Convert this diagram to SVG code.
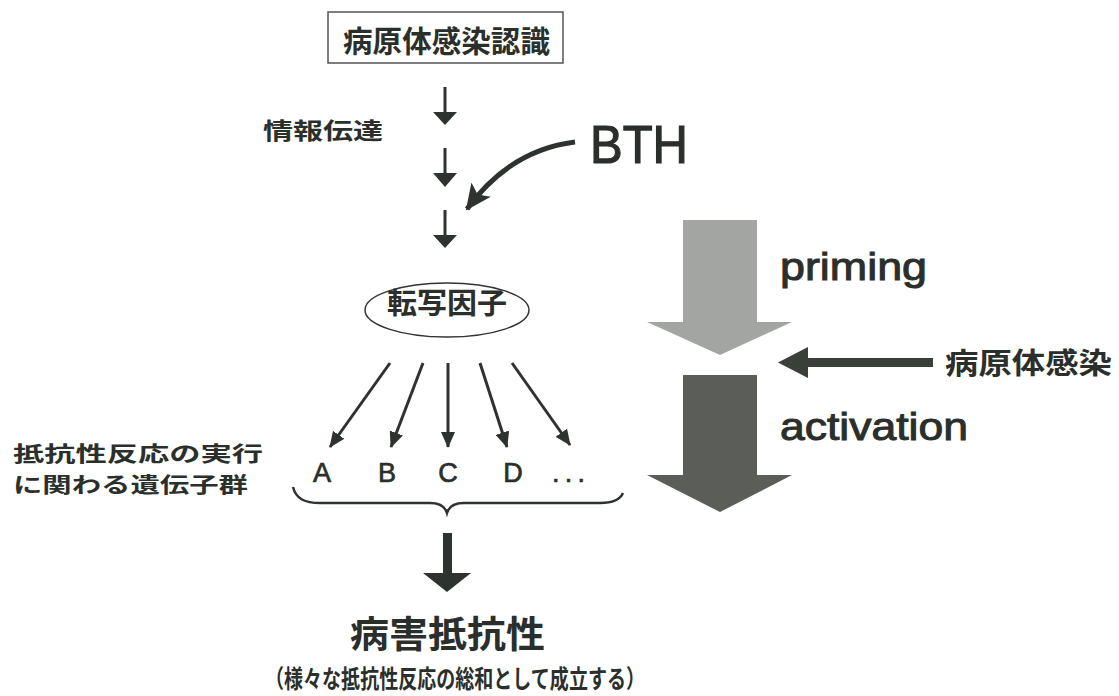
<svg xmlns="http://www.w3.org/2000/svg" width="1119" height="696" viewBox="0 0 1119 696">
<defs>
<style>
.jp{font-family:"Noto Sans CJK JP","Noto Sans CJK SC",sans-serif;font-weight:bold;fill:#2b2f2b}
.en{font-family:"Liberation Sans",Arial,sans-serif;fill:#2b2f2b;stroke:#2b2f2b}
.ln{stroke:#2f332f;stroke-width:3;fill:none}
.hd{fill:#2f332f}
</style>
<marker id="ah" markerUnits="userSpaceOnUse" viewBox="0 0 16 14" refX="15" refY="7" markerWidth="16" markerHeight="14" orient="auto">
<path d="M0,0 L16,7 L0,14 Z" fill="#2f332f"/>
</marker>
<marker id="ahb" markerUnits="userSpaceOnUse" viewBox="0 0 26 24" refX="24" refY="12" markerWidth="26" markerHeight="24" orient="auto">
<path d="M0,0 L26,12 L0,24 L6,12 Z" fill="#2f332f"/>
</marker>
</defs>
<rect width="1119" height="696" fill="#ffffff"/>

<g id="node-recognition">
<rect x="328" y="12" width="235" height="51" fill="#fff" stroke="#555" stroke-width="1.5"/>
<text class="jp" x="343" y="52" font-size="30" textLength="207" lengthAdjust="spacingAndGlyphs">病原体感染認識</text>
</g>

<g id="label-signal">
<text class="jp" x="263" y="139" font-size="23" textLength="120" lengthAdjust="spacingAndGlyphs">情報伝達</text>
</g>

<g id="node-bth">
<text class="en" x="590" y="163" font-size="53" stroke-width="1.2" textLength="98" lengthAdjust="spacingAndGlyphs">BTH</text>
</g>

<g id="node-tf">
<ellipse cx="447" cy="310" rx="82" ry="27" fill="#fff" stroke="#333" stroke-width="1.5"/>
<text class="jp" x="387" y="314" font-size="29" textLength="120" lengthAdjust="spacingAndGlyphs">転写因子</text>
</g>

<g id="node-genes">
<text class="en" font-size="27" stroke-width="0.7" text-anchor="middle" y="482">
<tspan x="322">A</tspan><tspan x="387">B</tspan><tspan x="448">C</tspan><tspan x="513">D</tspan>
</text>
<text class="en" font-size="27" stroke-width="0.7" x="552" y="482" textLength="33" lengthAdjust="spacing">...</text>
<text class="jp" x="13" y="461" font-size="21" textLength="250" lengthAdjust="spacingAndGlyphs">抵抗性反応の実行</text>
<text class="jp" x="13" y="491.5" font-size="21" textLength="235" lengthAdjust="spacingAndGlyphs">に関わる遺伝子群</text>
</g>

<g id="node-resistance">
<text class="jp" x="350" y="648" font-size="37" textLength="195" lengthAdjust="spacingAndGlyphs">病害抵抗性</text>
<text class="jp" x="265" y="688" font-size="25" textLength="380" lengthAdjust="spacingAndGlyphs">（様々な抵抗性反応の総和として成立する）</text>
</g>

<g id="node-priming">
<path d="M683,220 L757,220 L757,322 L792,322 L720,355 L647,322 L683,322 Z" fill="#a3a5a2"/>
<text class="en" x="780" y="280" font-size="38.5" stroke-width="1" textLength="147" lengthAdjust="spacingAndGlyphs">priming</text>
</g>

<g id="node-activation">
<path d="M683,375 L757,375 L757,475 L792,475 L720,512 L647,475 L683,475 Z" fill="#5b5e58"/>
<text class="en" x="780" y="440" font-size="38.5" stroke-width="1" textLength="188" lengthAdjust="spacingAndGlyphs">activation</text>
</g>

<g id="node-infection">
<text class="jp" x="945" y="374" font-size="29" textLength="167" lengthAdjust="spacingAndGlyphs">病原体感染</text>
</g>

<g id="connectors">
<line class="ln" x1="445" y1="87" x2="445" y2="114"/>
<path class="hd" d="M433,112 L457,112 L445,125 Z"/>
<line class="ln" x1="445" y1="148" x2="445" y2="175"/>
<path class="hd" d="M433,173 L457,173 L445,187 Z"/>
<line class="ln" x1="445" y1="210" x2="445" y2="237"/>
<path class="hd" d="M433,235 L457,235 L445,248 Z"/>
<path d="M575,142 Q510,150 467,209" stroke="#2f332f" stroke-width="5" fill="none" marker-end="url(#ahb)"/>
<line class="ln" x1="390" y1="363" x2="330" y2="447" marker-end="url(#ah)"/>
<line class="ln" x1="423" y1="363" x2="391" y2="447" marker-end="url(#ah)"/>
<line class="ln" x1="448" y1="363" x2="448" y2="447" marker-end="url(#ah)"/>
<line class="ln" x1="480" y1="363" x2="507" y2="447" marker-end="url(#ah)"/>
<line class="ln" x1="512" y1="363" x2="570" y2="445" marker-end="url(#ah)"/>
<path d="M293,487 C296,499 305,503 320,503 L430,503 C440,503 445,506 447,513 C449,506 454,503 464,503 L600,503 C612,503 620,500 623,493" stroke="#2f332f" stroke-width="2.5" fill="none"/>
<rect x="443" y="533" width="9" height="42" fill="#2f332f"/>
<path d="M423,573 L471,573 L447,592 Z" fill="#2f332f"/>
<rect x="805" y="358" width="128" height="9" fill="#3b3f3a"/>
<path d="M778,362.5 L808,347 L808,378 Z" fill="#3b3f3a"/>
</g>
</svg>
